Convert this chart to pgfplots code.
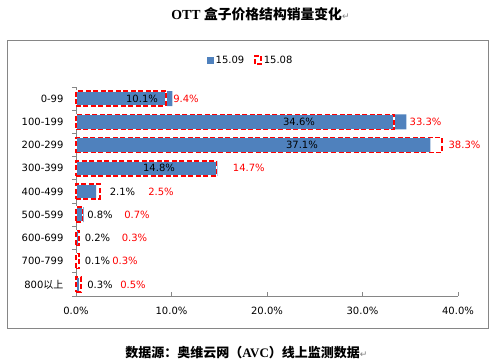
\documentclass[border=0pt]{standalone}
\usepackage{fontspec}
\setmainfont{DejaVu Sans}
\newfontfamily\cjk{Noto Sans CJK SC}
\newfontfamily\serif{Liberation Serif}
\newfontfamily\dejavu{DejaVu Sans}
\usepackage{pgfplots}
\pgfplotsset{compat=1.18}
\definecolor{barblue}{RGB}{79,129,189}
\definecolor{axiscol}{RGB}{134,134,134}
\definecolor{lblred}{RGB}{255,0,0}
\begin{document}
\begin{tikzpicture}
\path[use as bounding box] (-76pt,-67pt) rectangle (420pt,296pt);
\draw[axiscol, line width=1pt] (-68pt,-33pt) rectangle (412pt,255pt);
\node[font=\fontsize{13.8}{16}\selectfont\bfseries] at (184.5pt,282pt) {{\serif OTT }{\cjk 盒子价格结构销量变化}{\dejavu\fontsize{9}{10}\selectfont\mdseries\color{gray}↵}};
\node[font=\cjk\bfseries\fontsize{13}{15}\selectfont] at (170.5pt,-57pt) {数据源：奥维云网（{\serif AVC}）线上监测数据{\dejavu\fontsize{9}{10}\selectfont\mdseries\color{gray}↵}};
\begin{axis}[
  at={(0pt,0pt)}, anchor=south west,
  scale only axis, width=382pt, height=209pt,
  xmin=0, xmax=40, ymin=-0.5, ymax=8.5, y dir=reverse,
  clip=false,
  axis x line*=bottom, axis y line*=left,
  axis line style={axiscol, line width=0.8pt, -},
  tick align=inside, major tick length=4pt,
  tick style={axiscol, line width=0.8pt},
  xtick={0,10,20,30,40},
  xticklabels={0.0\%,10.0\%,20.0\%,30.0\%,40.0\%},
  xticklabel style={font=\fontsize{10}{12}\selectfont, yshift=-8pt},
  ytick={0,1,2,3,4,5,6,7,8},
  yticklabels={0-99,100-199,200-299,300-399,400-499,500-599,600-699,700-799,800{\cjk 以上}},
  yticklabel style={font=\fontsize{10}{12}\selectfont, xshift=-9pt},
  ytick style={draw=none},
  extra y ticks={-0.5,0.5,1.5,2.5,3.5,4.5,5.5,6.5,7.5,8.5},
  extra y tick labels={},
  extra y tick style={tick align=outside, ytick style={draw=axiscol}},
  legend style={at={(0.457,1.129)}, anchor=center, draw=none, fill=none,
    legend columns=2, font=\fontsize{10}{12}\selectfont,
    /tikz/every even column/.append style={column sep=8pt}},
  legend cell align=left,
]
\addplot[xbar, bar width=15pt, bar shift=0pt, fill=barblue, draw=none,
  legend image code/.code={\fill[barblue] (0pt,-3.5pt) rectangle (7pt,3.5pt);}]
  coordinates {(10.1,0) (34.6,1) (37.1,2) (14.8,3) (2.1,4) (0.8,5) (0.2,6) (0.1,7) (0.3,8)};
\addlegendentry{15.09}
\addplot[xbar, bar width=15pt, bar shift=0pt, fill=none, draw=red, line width=1.5pt,
  dash pattern=on 5pt off 2.5pt, preaction={draw=white, solid, line width=1.5pt},
  legend image code/.code={\draw[white, line width=1.5pt] (0pt,-4pt) rectangle (6pt,4pt);
     \draw[red, line width=1.5pt, dash pattern=on 5pt off 2pt] (0pt,-4pt) rectangle (6pt,4pt);}]
  coordinates {(9.4,0) (33.3,1) (38.3,2) (14.7,3) (2.5,4) (0.7,5) (0.3,6) (0.3,7) (0.5,8)};
\addlegendentry{15.08}
\addplot[draw=none, mark=none, forget plot, nodes near coords, point meta=explicit symbolic,
  every node near coord/.append style={anchor=center, text=black, inner sep=0pt, font=\fontsize{10}{12}\selectfont}]
  coordinates {(6.91,0)[10.1\%] (23.35,1)[34.6\%] (23.66,2)[37.1\%] (8.69,3)[14.8\%] (4.87,4)[2.1\%] (2.51,5)[0.8\%] (2.25,6)[0.2\%] (2.25,7)[0.1\%] (2.51,8)[0.3\%]};
\addplot[draw=none, mark=none, forget plot, nodes near coords, point meta=explicit symbolic,
  every node near coord/.append style={anchor=center, text=lblred, inner sep=0pt, font=\fontsize{10}{12}\selectfont}]
  coordinates {(11.52,0)[9.4\%] (36.6,1)[33.3\%] (40.68,2)[38.3\%] (18.1,3)[14.7\%] (8.9,4)[2.5\%] (6.39,5)[0.7\%] (6.13,6)[0.3\%] (5.13,7)[0.3\%] (5.97,8)[0.5\%]};
\end{axis}
\end{tikzpicture}
\end{document}
